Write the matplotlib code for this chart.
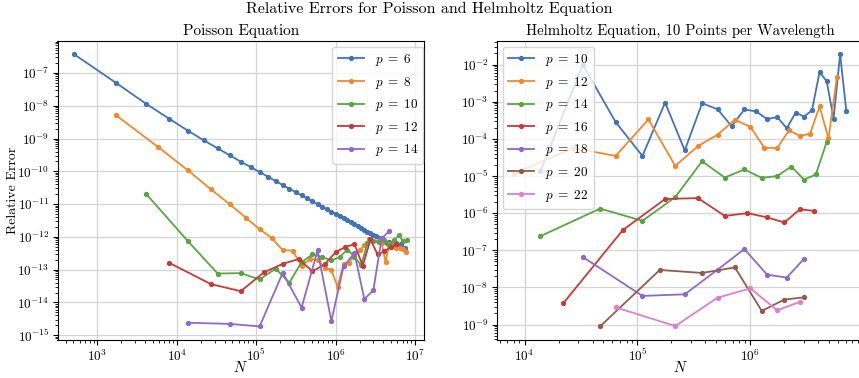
import matplotlib
matplotlib.use("Agg")
import matplotlib.pyplot as plt
from matplotlib.ticker import LogLocator, NullFormatter
import numpy as np

plt.rcParams['font.family'] = 'serif'
plt.rcParams['font.serif'] = ['cmr10']
plt.rcParams['mathtext.fontset'] = 'cm'
plt.rcParams['axes.formatter.use_mathtext'] = True
plt.rcParams['axes.unicode_minus'] = True

# ---------------- Poisson data (grid size n, N = n^3) ----------------
pois_n6 = [8, 12, 16, 20, 24, 28, 32, 36, 40, 44, 48, 52, 56, 60, 64, 68, 72, 76, 80, 84,
           88, 92, 96, 100, 104, 108, 112, 116, 120, 124, 128, 132, 136, 140, 144, 148,
           152, 156, 160, 164, 168, 172, 176, 180, 184, 188, 192, 196]
pois_e6 = [3.72e-7, 4.97e-8, 1.16e-8, 4.05e-9, 1.74e-9, 8.81e-10, 5.02e-10, 3.07e-10,
           1.97e-10, 1.35e-10, 9.5e-11, 6.85e-11, 5.05e-11, 3.81e-11, 2.94e-11, 2.31e-11,
           1.84e-11, 1.48e-11, 1.21e-11, 9.93e-12, 8.24e-12, 6.90e-12, 5.82e-12, 4.95e-12,
           4.24e-12, 3.65e-12, 3.16e-12, 2.74e-12, 2.39e-12, 2.10e-12, 1.85e-12, 1.64e-12,
           1.45e-12, 1.29e-12, 1.16e-12, 1.04e-12, 9.3e-13, 8.4e-13, 7.5e-13, 6.5e-13,
           7.2e-13, 6.0e-13, 5.5e-13, 6.5e-13, 5.0e-13, 6.0e-13, 4.6e-13, 4.5e-13]

pois_n8 = [12, 18, 24, 30, 36, 42, 48, 54, 60, 66, 72, 78, 84, 90, 96, 102, 108, 114,
           120, 126, 132, 138, 144, 150, 156, 162, 168, 174, 180, 186, 192, 198]
pois_e8 = [5.1e-9, 5.5e-10, 1.07e-10, 2.8e-11, 9.8e-12, 3.85e-12, 1.7e-12, 9.2e-13,
           3.9e-13, 3.8e-13, 1.3e-13, 2.1e-13, 2.0e-13, 1.15e-13, 9.5e-14, 3.0e-14,
           1.5e-13, 1.6e-13, 2.9e-13, 3.9e-13, 5.5e-13, 8.5e-13, 7.7e-13, 7.5e-13,
           6.5e-13, 1.7e-13, 6.0e-13, 7.0e-13, 4.5e-13, 4.5e-13, 4.2e-13, 3.4e-13]

pois_n10 = [16, 24, 32, 40, 48, 56, 64, 72, 80, 88, 96, 104, 112, 120, 128, 136, 144,
            152, 160, 168, 176, 184, 192, 200]
pois_e10 = [2.07e-11, 7.4e-13, 7.6e-14, 7.8e-14, 5.0e-14, 1.07e-13, 4.0e-14, 1.7e-13,
            2.9e-13, 2.4e-13, 1.9e-13, 2.4e-13, 4.1e-13, 2.5e-13, 1.35e-13, 6.5e-13,
            7.5e-13, 7.0e-13, 8.0e-13, 5.5e-13, 8.0e-13, 1.1e-12, 7.5e-13, 7.8e-13]

pois_n12 = [20, 30, 40, 50, 60, 70, 80, 90, 100, 110, 120, 130, 140, 150, 160, 170, 180]
pois_e12 = [1.62e-13, 3.6e-14, 2.2e-14, 8.2e-14, 1.5e-13, 2.1e-13, 8.9e-14, 1.45e-13,
            3.4e-13, 4.9e-13, 6.0e-13, 1.3e-13, 8.3e-13, 2.9e-13, 3.6e-13, 4.9e-13, 6.0e-13]

pois_n14 = [24, 36, 48, 60, 72, 84, 96, 108, 120, 132, 144, 156, 168]
pois_e14 = [2.4e-15, 2.2e-15, 1.85e-15, 8.0e-14, 6.9e-15, 3.85e-13, 2.7e-15, 1.26e-13,
            3.2e-13, 1.26e-14, 2.35e-14, 9.0e-13, 1.5e-12]

# ---------------- Helmholtz data ----------------
helm_n10 = [24, 32, 40, 48, 56, 64, 72, 80, 88, 96, 104, 112, 120, 128, 136, 144, 152,
            160, 168, 176, 184, 192]
helm_e10 = [1.34e-5, 1.0e-2, 2.85e-4, 3.47e-5, 9.5e-4, 4.9e-5, 9.1e-4, 6.3e-4, 2.2e-4,
            6.2e-4, 5.5e-4, 3.4e-4, 3.9e-4, 1.93e-4, 5.1e-4, 4.0e-4, 5.9e-4, 6.3e-3,
            3.55e-3, 3.5e-4, 1.9e-2, 5.5e-4]

helm_n12 = [20, 30, 40, 50, 60, 70, 80, 90, 100, 110, 120, 130, 140, 150, 160, 170, 180]
helm_e12 = [1.16e-5, 5.7e-5, 3.47e-5, 3.35e-4, 1.87e-5, 6.4e-5, 1.3e-4, 3.3e-4, 2.1e-4,
            5.7e-5, 5.7e-5, 1.7e-4, 1.2e-4, 1.38e-4, 7.5e-4, 1.03e-4, 4.6e-3]

helm_n14 = [24, 36, 48, 60, 72, 84, 96, 108, 120, 132, 144, 156, 168]
helm_e14 = [2.4e-7, 1.33e-6, 6.2e-7, 2.7e-6, 2.5e-5, 9.1e-6, 1.5e-5, 8.9e-6, 1.0e-5,
            1.8e-5, 8.0e-6, 1.1e-5, 8.3e-5]

helm_n16 = [28, 42, 56, 70, 84, 98, 112, 126, 140, 154]
helm_e16 = [3.7e-9, 3.5e-7, 2.4e-6, 2.55e-6, 8.4e-7, 1.0e-6, 7.7e-7, 5.6e-7, 1.27e-6, 1.15e-6]

helm_n18 = [32, 48, 64, 80, 96, 112, 128, 144]
helm_e18 = [6.6e-8, 5.9e-9, 6.5e-9, 3.0e-8, 1.08e-7, 2.2e-8, 1.84e-8, 5.9e-8]

helm_n20 = [36, 54, 72, 90, 108, 126, 144]
helm_e20 = [8.9e-10, 2.95e-8, 2.45e-8, 3.45e-8, 2.33e-9, 4.7e-9, 5.4e-9]

helm_n22 = [40, 60, 80, 100, 120, 140]
helm_e22 = [2.9e-9, 9.1e-10, 5.3e-9, 9.4e-9, 2.4e-9, 4.1e-9]

pois_series = [(6, pois_n6, pois_e6), (8, pois_n8, pois_e8), (10, pois_n10, pois_e10),
               (12, pois_n12, pois_e12), (14, pois_n14, pois_e14)]
helm_series = [(10, helm_n10, helm_e10), (12, helm_n12, helm_e12), (14, helm_n14, helm_e14),
               (16, helm_n16, helm_e16), (18, helm_n18, helm_e18), (20, helm_n20, helm_e20),
               (22, helm_n22, helm_e22)]

colors = ['#4473b2', '#ee892e', '#5aa446', '#c53a3a', '#8d6bc4', '#8b5e50', '#dc80cc']

W, H = 859, 378
fig = plt.figure(figsize=(W / 100, H / 100), dpi=100)

def px_axes(x0, x1, y0, y1):
    return fig.add_axes([x0 / W, 1 - y1 / H, (x1 - x0) / W, (y1 - y0) / H])

ax1 = px_axes(57.5, 424, 40.7, 340)
ax2 = px_axes(497, 863, 40.7, 340)

def style(ax):
    ax.set_xscale('log')
    ax.set_yscale('log')
    ax.grid(True, which='major', color='#d4d4d4', linewidth=0.9)
    ax.set_axisbelow(True)
    ax.xaxis.set_major_locator(LogLocator(base=10, numticks=30))
    ax.yaxis.set_major_locator(LogLocator(base=10, numticks=30))
    ax.xaxis.set_minor_locator(LogLocator(base=10, subs=np.arange(2, 10), numticks=30))
    ax.yaxis.set_minor_locator(LogLocator(base=10, subs=np.arange(2, 10), numticks=30))
    ax.xaxis.set_minor_formatter(NullFormatter())
    ax.yaxis.set_minor_formatter(NullFormatter())
    ax.tick_params(which='major', length=3.5, width=0.8, labelsize=9.5, pad=2.5)
    ax.tick_params(which='minor', length=2, width=0.6)
    for s in ax.spines.values():
        s.set_linewidth(0.8)
    ax.set_xlabel('$N$', fontsize=10.5)
    ax.xaxis.set_label_coords(0.5, -0.068)

for i, (p, n, e) in enumerate(pois_series):
    N = np.array(n, dtype=float) ** 3
    ax1.plot(N, e, '-o', color=colors[i], lw=1.3, ms=2.8, label=f'$p\\;=\\;{p}$')
for i, (p, n, e) in enumerate(helm_series):
    N = np.array(n, dtype=float) ** 3
    ax2.plot(N, e, '-o', color=colors[i], lw=1.3, ms=2.8, label=f'$p\\;=\\;{p}$')

style(ax1)
style(ax2)

ax1.set_title('Poisson Equation', fontsize=11, pad=4)
ax2.set_title('Helmholtz Equation, 10 Points per Wavelength', fontsize=10.7, pad=4)
ax1.set_ylabel('Relative Error', fontsize=10)
ax1.yaxis.set_label_coords(-0.104, 0.5)

ax1.legend(loc='upper right', bbox_to_anchor=(0.998, 0.98), borderaxespad=0,
           fontsize=9.5, framealpha=0.8)
ax2.legend(loc='upper left', bbox_to_anchor=(0.0156, 0.98), borderaxespad=0,
           fontsize=9.5, framealpha=0.8)

fig.text(0.5, 1 - 9 / H, 'Relative Errors for Poisson and Helmholtz Equation',
         ha='center', va='center', fontsize=11.5)

fig.savefig('out.png', dpi=100)
